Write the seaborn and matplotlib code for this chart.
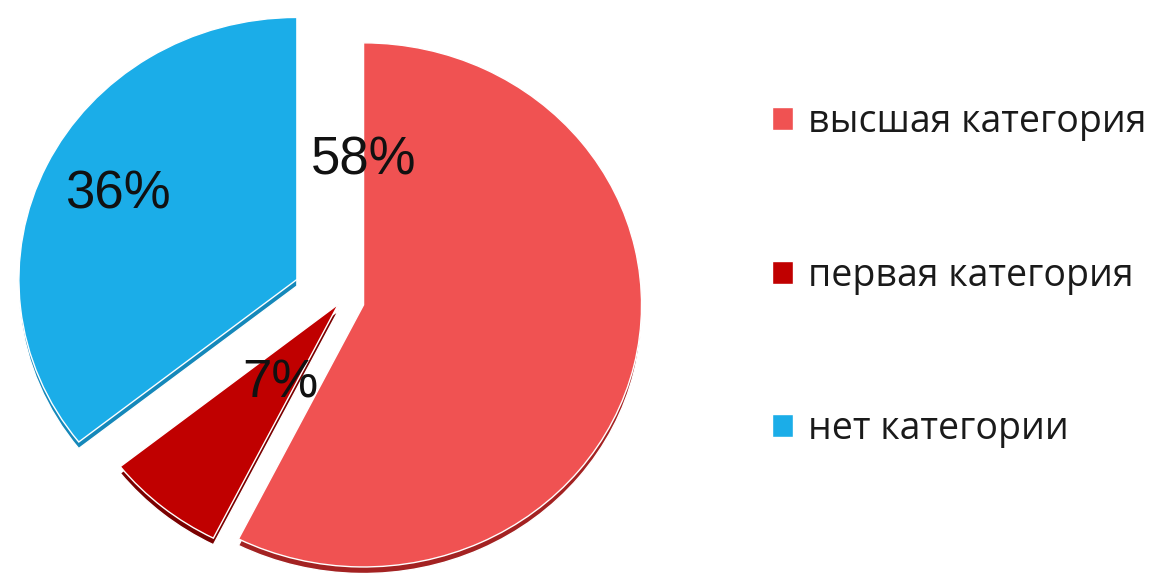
import matplotlib.pyplot as plt
import seaborn as sns

# data
categories = ['высшая категория', 'первая категория', 'нет категории']
shares = [58, 7, 36]
pct_labels = ['58%', '7%', '36%']

# styling
colors = ['#F05252', '#C00000', '#1BADE8']
rim_colors = ['#A32222', '#7A0000', '#1588BA']
explode = [0.08, 0.02, 0.18]
label_pos = [(0.079, 0.534), (-0.223, -0.317), (-0.806, 0.401)]

sns.set_theme(style='white')
palette = sns.color_palette(colors)
rim_palette = sns.color_palette(rim_colors)

fig = plt.figure(figsize=(11.55, 5.76), dpi=100)
ax = fig.add_axes([0, 0, 1, 1])

# darker copy slightly lower, gives the pie a little 3d rim
ax.pie(shares, colors=rim_palette, explode=explode, startangle=90,
       counterclock=False, center=(0, -0.025))
wedges, _ = ax.pie(shares, colors=palette, explode=explode, startangle=90,
                   counterclock=False)

for txt, (x, y) in zip(pct_labels, label_pos):
    ax.text(x, y, txt, ha='center', va='center', fontsize=38,
            family='Liberation Sans', color='#111111')

# slightly squashed pie, like the tilted original
ax.set_aspect('auto')
ax.set_xlim(-1.230, 2.925)
ax.set_ylim(-1.053, 1.145)
ax.axis('off')

fig.legend(wedges, categories, loc='upper left', bbox_to_anchor=(0.668, 0.821),
           frameon=False, prop={'family': 'Open Sans', 'size': 27},
           labelcolor='#1a1a1a', handlelength=0.57, handleheight=0.57,
           handletextpad=0.4, labelspacing=3.08, borderpad=0, borderaxespad=0)

fig.savefig('out.png', dpi=100)
